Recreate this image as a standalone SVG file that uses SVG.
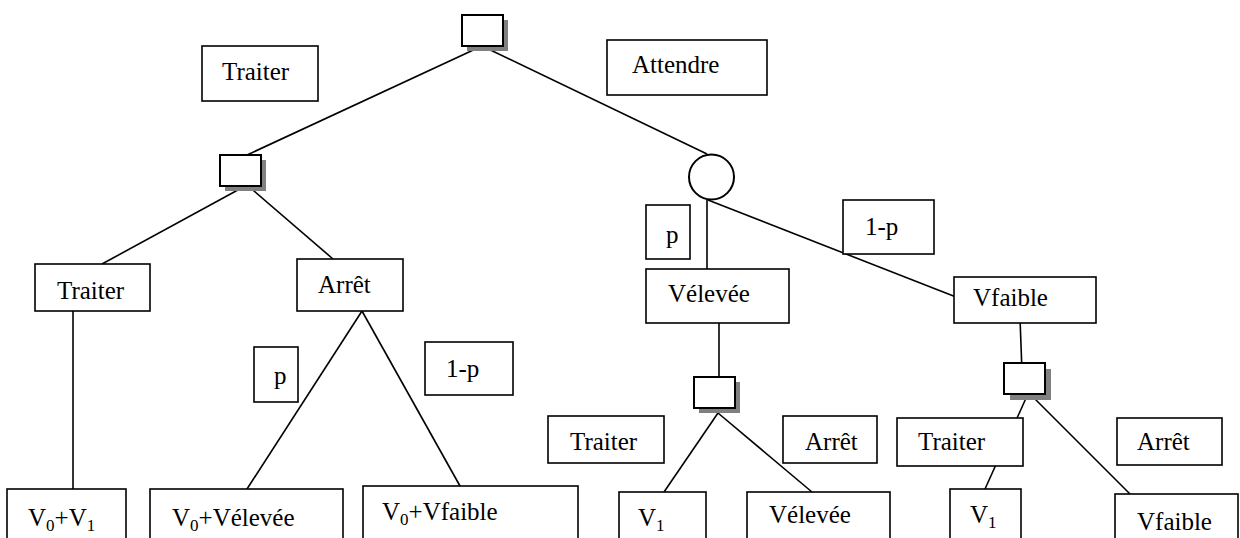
<svg xmlns="http://www.w3.org/2000/svg" width="1240" height="538" viewBox="0 0 1240 538">
<style>
.box{fill:#fff;stroke:#000;stroke-width:1.6}
.sq{fill:#fff;stroke:#000;stroke-width:2}
.sh{fill:#808080}
.ln{stroke:#000;stroke-width:1.6;fill:none}
text{font-family:"Liberation Serif","Times New Roman",serif;font-size:25px;fill:#000}
.sub{font-size:17px}
</style>
<rect width="1240" height="538" fill="#fff"/>
<g id="connectors">
<line class="ln" x1="482" y1="46" x2="247" y2="155"/>
<line class="ln" x1="482" y1="46" x2="707" y2="154"/>
<line class="ln" x1="247" y1="185" x2="102" y2="264"/>
<line class="ln" x1="247" y1="185" x2="333" y2="259"/>
<line class="ln" x1="73" y1="305" x2="73" y2="489"/>
<line class="ln" x1="362" y1="311" x2="247" y2="489"/>
<line class="ln" x1="362" y1="311" x2="460" y2="486"/>
<line class="ln" x1="707" y1="200" x2="707" y2="269"/>
<line class="ln" x1="708" y1="200" x2="956" y2="297"/>
<line class="ln" x1="719" y1="323" x2="719" y2="377"/>
<line class="ln" x1="718" y1="413" x2="664" y2="492"/>
<line class="ln" x1="718" y1="413" x2="812" y2="492"/>
<line class="ln" x1="1020" y1="318" x2="1022" y2="372"/>
<line class="ln" x1="1027" y1="396" x2="985" y2="489"/>
<line class="ln" x1="1032" y1="396" x2="1130" y2="494"/>
</g>
<g id="root-decision">
<rect class="sh" x="467" y="20" width="41" height="31"/>
<rect class="sq" x="462" y="15" width="41" height="31"/>
</g>
<g id="label-traiter-top">
<rect class="box" x="202" y="46" width="116" height="55"/>
<text x="222" y="80">Traiter</text>
</g>
<g id="label-attendre">
<rect class="box" x="607" y="40" width="160" height="55"/>
<text x="632" y="73">Attendre</text>
</g>
<g id="left-decision">
<rect class="sh" x="225" y="160" width="41" height="31"/>
<rect class="sq" x="220" y="155" width="41" height="31"/>
</g>
<g id="chance">
<circle cx="711.5" cy="177" r="22.5" fill="#fff" stroke="#000" stroke-width="2"/>
</g>
<g id="traiter-left">
<rect class="box" x="35" y="264" width="115" height="47"/>
<text x="57" y="299">Traiter</text>
</g>
<g id="arret-left">
<rect class="box" x="297" y="259" width="106" height="52"/>
<text x="318" y="293">Arrêt</text>
</g>
<g id="p-left">
<rect class="box" x="254" y="347" width="44" height="55"/>
<text x="274" y="384">p</text>
</g>
<g id="1p-left">
<rect class="box" x="425" y="342" width="88" height="53"/>
<text x="446" y="377">1-p</text>
</g>
<g id="p-right">
<rect class="box" x="646" y="205" width="44" height="54"/>
<text x="666" y="243">p</text>
</g>
<g id="1p-right">
<rect class="box" x="843" y="200" width="91" height="54"/>
<text x="865" y="235">1-p</text>
</g>
<g id="velevee-mid">
<rect class="box" x="646" y="269" width="143" height="54"/>
<text x="668" y="302">Vélevée</text>
</g>
<g id="vfaible-mid">
<rect class="box" x="954" y="277" width="142" height="46"/>
<text x="973" y="306">Vfaible</text>
</g>
<g id="mid-decision">
<rect class="sh" x="699" y="382" width="41" height="31"/>
<rect class="sq" x="694" y="377" width="41" height="31"/>
</g>
<g id="right-decision">
<rect class="sh" x="1010" y="369" width="41" height="31"/>
<rect class="sq" x="1004" y="363" width="41" height="31"/>
</g>
<g id="traiter-mid">
<rect class="box" x="548" y="416" width="116" height="47"/>
<text x="570" y="450">Traiter</text>
</g>
<g id="arret-mid">
<rect class="box" x="783" y="416" width="94" height="47"/>
<text x="805" y="450">Arrêt</text>
</g>
<g id="traiter-right">
<rect class="box" x="897" y="418" width="126" height="48"/>
<text x="918" y="450">Traiter</text>
</g>
<g id="arret-right">
<rect class="box" x="1117" y="418" width="105" height="47"/>
<text x="1137" y="450">Arrêt</text>
</g>
<g id="v0v1">
<rect class="box" x="7" y="489" width="119" height="60"/>
<text x="28" y="526">V<tspan class="sub" dy="5">0</tspan><tspan dy="-5">+V</tspan><tspan class="sub" dy="5">1</tspan></text>
</g>
<g id="v0velevee">
<rect class="box" x="150" y="489" width="193" height="60"/>
<text x="172" y="526">V<tspan class="sub" dy="5">0</tspan><tspan dy="-5">+Vélevée</tspan></text>
</g>
<g id="v0vfaible">
<rect class="box" x="363" y="486" width="215" height="60"/>
<text x="382" y="520">V<tspan class="sub" dy="5">0</tspan><tspan dy="-5">+Vfaible</tspan></text>
</g>
<g id="v1-mid">
<rect class="box" x="619" y="492" width="87" height="60"/>
<text x="638" y="526">V<tspan class="sub" dy="5">1</tspan></text>
</g>
<g id="velevee-bottom">
<rect class="box" x="747" y="492" width="143" height="60"/>
<text x="769" y="523">Vélevée</text>
</g>
<g id="v1-right">
<rect class="box" x="950" y="489" width="71" height="60"/>
<text x="970" y="523">V<tspan class="sub" dy="5">1</tspan></text>
</g>
<g id="vfaible-bottom">
<rect class="box" x="1115" y="494" width="123" height="60"/>
<text x="1137" y="530">Vfaible</text>
</g>
</svg>
